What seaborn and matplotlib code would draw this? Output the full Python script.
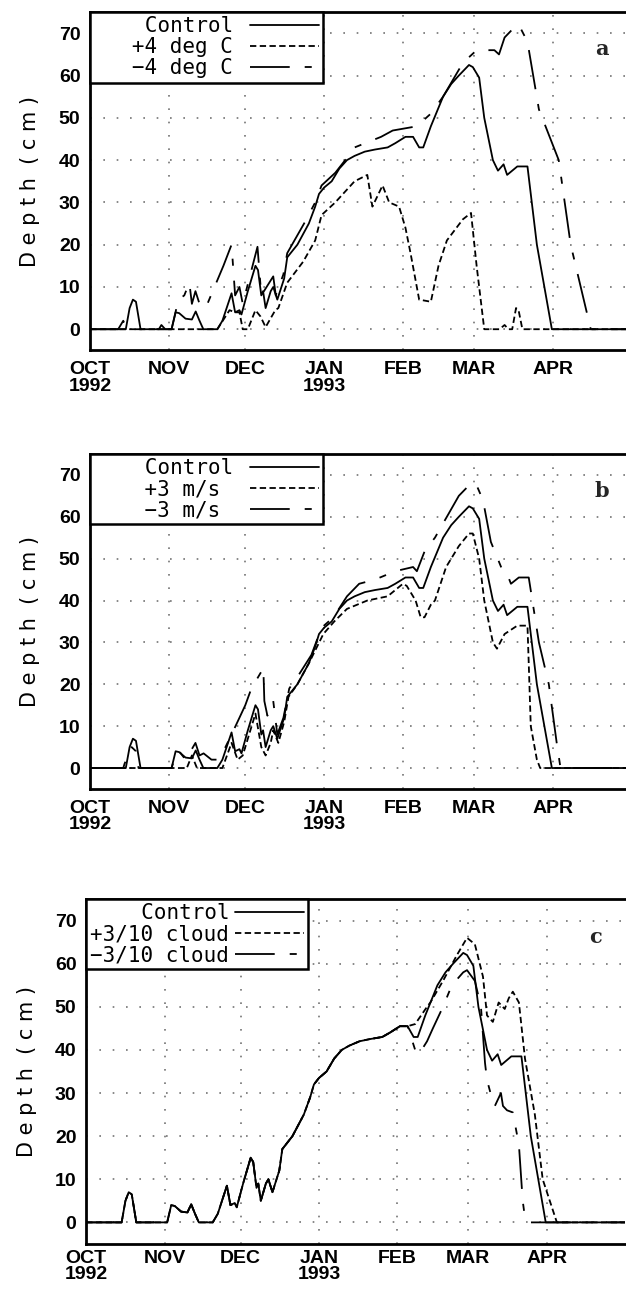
import matplotlib
matplotlib.use('Agg')
import matplotlib.pyplot as plt
from matplotlib.lines import Line2D
import numpy as np
import pandas as pd
import seaborn as sns

# snow depth (cm) vs days after 1 Oct 1992
start = pd.Timestamp('1992-10-01')

ctrl_day = [0, 14, 15.5, 16.8, 18, 19.8, 32, 33.6, 35, 37.5, 40, 41.5, 43, 44.5, 50, 52,
            55.6, 57, 58.7, 59.5, 62, 65, 66, 67.3, 68, 69, 71, 72, 73.6, 76.3, 77.5, 81.5,
            86, 88.5, 90, 92, 95, 98, 101, 104, 108, 112, 117, 120, 124, 127, 129.4, 131,
            134, 138.8, 142, 145, 149, 150.5, 153, 155, 158.4, 160.4, 162.6, 164, 168, 172,
            175.7, 181.6, 213]
ctrl = [0, 0, 5, 7, 6.5, 0, 0, 4, 3.8, 2.5, 2.3, 4.2, 2, 0, 0, 2,
        8.5, 4, 4.5, 3.5, 9, 15, 14, 8, 9, 5, 9, 10, 7, 12, 17, 20,
        25, 29, 32, 33.5, 35, 38, 40, 41, 42, 42.5, 43, 44, 45.5, 45.5, 43, 43,
        48, 55, 58, 60, 62.5, 62, 59.5, 50, 40, 37.5, 39, 36.5, 38.5, 38.5,
        20, 0, 0]

# panel a: temperature
p4_day = [0, 50, 54.8, 57, 58.7, 60, 62, 65, 67, 69, 72.8, 74, 77.5, 83.8, 88.5, 91, 96.4,
          104, 109, 111, 115, 117.6, 121.5, 124, 126, 129.4, 134, 137, 140.3, 146.6, 149.8,
          152, 155, 161, 163, 164.5, 166, 167.5, 168.5, 170, 213]
p4 = [0, 0, 4.5, 4, 4, 0, 0, 4.5, 3, 0.5, 4.5, 5, 11, 16, 21, 27, 30,
      35, 36.5, 29, 34, 30, 29, 24, 18, 7, 6.5, 15, 21, 26, 27.5,
      15, 0, 0, 1, 0, 0, 5, 4.5, 0, 0]
m4_day = [0, 11, 13, 14.5, 27, 28, 29.5, 32, 34.7, 37, 39, 40, 41.4, 43, 45.4, 52.4, 55.6,
          57, 58.7, 60, 65.8, 67.3, 72, 73, 76, 77.5, 84.6, 88.5, 91, 96.4, 100.3, 104,
          114.4, 119, 128.5, 134, 138.8, 146.6, 152, 159, 160.8, 163, 167, 168.6, 172,
          176.5, 184.3, 189, 196.9, 213]
m4 = [0, 0, 2, 0, 0, 1, 0, 0, 7, 8, 11, 6, 9, 6, 5, 15, 20,
      8, 10, 6, 19.5, 8, 12.5, 8, 13, 18, 25.5, 30, 34, 37, 40, 43,
      45.5, 47, 48, 51, 55, 63, 66, 66, 65, 69, 71.5, 72, 68,
      52, 40, 20, 0, 0]

# panel b: wind
p3_day = [0, 38, 40, 42, 52, 55.6, 58, 60, 62, 65, 67.3, 69, 71, 72, 74, 76.3, 78, 81.5,
          86, 91.7, 96, 101, 109, 117, 123, 124.5, 128, 130, 131.5, 134, 135.6, 140, 145,
          149, 150.5, 153, 155, 158.4, 160, 163, 168, 172, 172.5, 173.3, 175.7, 177, 213]
p3 = [0, 0, 3, 0, 0, 6, 2, 3, 7, 13, 5, 3, 6, 9, 6, 11, 17, 20,
      25, 32, 35, 38, 40, 41, 44, 43.5, 40, 36, 36, 39, 40, 48, 53,
      56, 56, 50, 40, 30, 28.5, 32, 34, 34, 25, 10, 2, 0, 0]
m3_day = [0, 13, 13.5, 16.3, 18, 19, 32, 33.6, 35, 37.5, 39, 41.4, 43, 44.6, 47.7, 50,
          52.4, 55.6, 58.7, 61, 63.4, 67.3, 68.1, 68.5, 69.7, 71.5, 72, 73.6, 76, 78.3,
          82.3, 87, 91, 95.7, 101, 105.8, 112, 120, 127, 128.5, 131.7, 135.6, 140.3, 145,
          149.8, 152, 154.5, 157.6, 162.3, 163.9, 165.5, 168.6, 172.5, 176.5, 180.4,
          183.5, 185, 213]
m3 = [0, 0, 1, 5, 4, 0, 0, 3, 4, 2, 3.5, 6, 3, 3.5, 2, 2,
      4, 8, 12, 15, 19, 23, 24, 16, 12.5, 15, 16, 8, 12, 19,
      22.5, 27, 33.5, 36, 41, 44, 45, 47, 48, 47, 52, 55, 60, 65,
      68, 67.5, 64, 54, 47, 46.5, 44, 45.5, 45.5, 30, 20,
      6, 0, 0]

# panel c: cloud (same as control until early Feb)
pc_tail_day = [127, 130, 134.7, 136, 141, 146.5, 150.5, 153.6, 156.8, 158.4, 160.7, 163,
               165.4, 167, 168.6, 171, 173.4, 177.3, 180.4, 186, 213]
pc_tail = [45.5, 46, 50, 51, 56, 62, 66, 64.5, 57, 48, 46.5, 51,
           49.5, 52, 53.5, 51, 38, 25, 10, 0, 0]
mc_tail_day = [127, 130, 131.5, 134.7, 137, 141, 144.5, 149, 150.5, 153.6, 156, 157.6,
               158.4, 160.7, 161.5, 163.9, 164.7, 166.3, 168.6, 171, 172.5, 173.3, 174.9, 213]
mc_tail = [45.5, 40, 39, 42, 45, 50, 55, 58, 58.5, 56, 50, 37,
           33, 28, 27, 30, 27, 26, 25.5, 18, 5, 1.5, 0, 0]

ctrl_early = [(d, v) for d, v in zip(ctrl_day, ctrl) if d < 127]
pc_day = [d for d, v in ctrl_early] + pc_tail_day
pc = [v for d, v in ctrl_early] + pc_tail
mc_day = [d for d, v in ctrl_early] + mc_tail_day
mc = [v for d, v in ctrl_early] + mc_tail

month_labels = ['OCT\n1992', 'NOV', 'DEC', 'JAN\n1993', 'FEB', 'MAR', 'APR']

# (letter, legend labels, series, axes box, legend text pad, tick label pad)
panels = [
    ('a', ['   Control', '   +4 deg C', '   \u22124 deg C'],
     [(ctrl_day, ctrl), (p4_day, p4), (m4_day, m4)],
     [0.1441, 0.7284, 0.865, 0.2622], 0.8, 8),
    ('b', ['   Control', '    +3 m/s ', '    \u22123 m/s '],
     [(ctrl_day, ctrl), (p3_day, p3), (m3_day, m3)],
     [0.1441, 0.3884, 0.865, 0.2597], 0.8, 8),
    ('c', ['  Control', '+3/10 cloud', '\u22123/10 cloud'],
     [(ctrl_day, ctrl), (pc_day, pc), (mc_day, mc)],
     [0.1377, 0.0357, 0.861, 0.2674], 0.3, 4),
]

sns.set_style('white')
plt.rcParams['font.family'] = ['Liberation Sans', 'DejaVu Sans']

LW = 1.3
dash_styles = ['', (3.5, 1.9), (22, 8.3, 3.9, 8.3)]

fig = plt.figure(figsize=(6.26, 12.9), dpi=100)
ticks = pd.date_range('1992-10-01', '1993-04-01', freq='MS')

for letter, labels, series, box, tpad, xpad in panels:
    ax = fig.add_axes(box)
    frames = []
    for lab, (days, vals) in zip(labels, series):
        frames.append(pd.DataFrame({
            'date': start + pd.to_timedelta(days, unit='D'),
            'depth': vals,
            'run': lab}))
    df = pd.concat(frames, ignore_index=True)
    sns.lineplot(data=df, x='date', y='depth', style='run', style_order=labels,
                 dashes=dict(zip(labels, dash_styles)), color='black',
                 linewidth=LW, legend=False, ax=ax, zorder=3)

    ax.set_xlim(start, start + pd.Timedelta(days=213))
    ax.set_ylim(-5, 75)
    ax.set_yticks(range(0, 80, 10))
    ax.set_xticks(ticks)
    ax.set_xticklabels(month_labels, fontsize=14, fontweight='bold', linespacing=0.95)
    ax.tick_params(axis='y', labelsize=14, direction='out', length=5, width=1.5, pad=2,
                   labelcolor='black', color='black')
    ax.tick_params(axis='x', direction='in', length=4, width=1.2, pad=xpad,
                   labelcolor='black', color='black')
    for t in ax.get_yticklabels():
        t.set_fontweight('bold')
    ax.grid(True, linestyle=(0, (1, 7)), color='0.45', linewidth=1.2)
    for s in ['left', 'bottom', 'top']:
        ax.spines[s].set_linewidth(2)
        ax.spines[s].set_color('black')
    ax.spines['right'].set_visible(False)
    ax.set_xlabel('')
    ax.set_ylabel('D e p t h  ( c m )', fontsize=15, family='DejaVu Sans', color='black')
    ax.yaxis.set_label_coords(-0.092, 0.5)

    handles = [Line2D([], [], color='black', lw=LW)]
    for d in dash_styles[1:]:
        h = Line2D([], [], color='black', lw=LW)
        h.set_dashes(d)
        handles.append(h)
    leg = ax.legend(handles, labels, loc='upper left', markerfirst=False,
                    borderaxespad=0, fancybox=False, framealpha=1, edgecolor='black',
                    handlelength=3.3, handletextpad=tpad, labelspacing=0.05,
                    borderpad=0.2, prop={'family': 'DejaVu Sans Mono', 'size': 15})
    leg.get_frame().set_linewidth(1.8)
    leg.set_zorder(5)
    for t in leg.get_texts():
        t.set_color('black')

    ax.text(0.945, 0.89, letter, transform=ax.transAxes, fontsize=15,
            fontweight='bold', family='DejaVu Serif', ha='center', va='center')

fig.savefig('out.png', dpi=100)
